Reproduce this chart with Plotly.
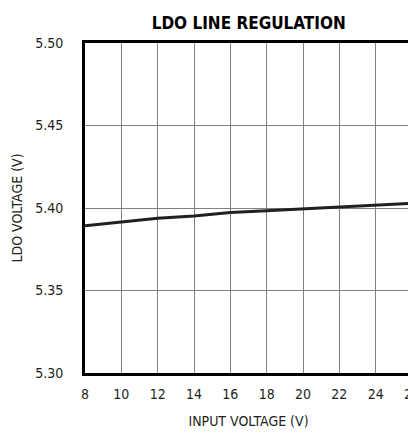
import plotly.graph_objects as go

input_v = [8, 10, 12, 14, 16, 18, 20, 22, 24, 26]
ldo_v = [5.3893, 5.3917, 5.3938, 5.3952, 5.3972, 5.3984, 5.3994, 5.4006, 5.4016, 5.4028]
x_ticks = [8, 10, 12, 14, 16, 18, 20, 22, 24, 26]
y_ticks = [5.30, 5.35, 5.40, 5.45, 5.50]

FONT = "DejaVu Sans Condensed, Liberation Sans Narrow, sans-serif"

fig = go.Figure()
fig.add_trace(go.Scatter(x=input_v, y=ldo_v, mode="lines",
                         line=dict(color="#231f20", width=3), showlegend=False))

fig.update_layout(
    width=408, height=427,
    margin=dict(l=77, r=4, t=35, b=62),
    paper_bgcolor="white", plot_bgcolor="white",
    font=dict(family=FONT, size=14, color="#231f20"),
    title=dict(text="<b>LDO LINE REGULATION</b>", x=0.59, xanchor="center", y=0.965, yanchor="middle",
               font=dict(family=FONT, size=17, color="#000")),
    xaxis=dict(range=[8, 26], tickvals=x_ticks, ticktext=[str(v) for v in x_ticks],
               showgrid=True, gridcolor="#808080", gridwidth=1,
               showline=True, linecolor="#000", linewidth=3, mirror=True,
               ticks="", zeroline=False, ticklabelstandoff=6, ticklabeloverflow="allow",
               automargin=False,
               title=dict(text="INPUT VOLTAGE (V)", standoff=16, font=dict(size=14))),
    yaxis=dict(range=[5.30, 5.50], tickvals=y_ticks, ticktext=["%.2f" % v for v in y_ticks],
               showgrid=True, gridcolor="#808080", gridwidth=1,
               showline=True, linecolor="#000", linewidth=3, mirror=True,
               ticks="", zeroline=False, ticklabelstandoff=16, automargin=False,
               title=dict(text="LDO VOLTAGE (V)", standoff=10, font=dict(size=14))),
)

fig.write_html("out.html")
